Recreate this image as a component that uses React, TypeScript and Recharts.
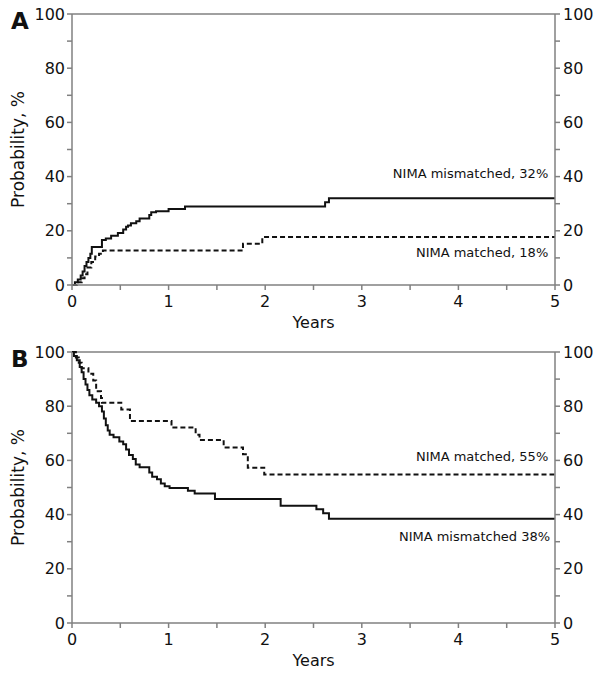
import React from 'react';
import { LineChart, Line, XAxis, YAxis, ReferenceLine, ReferenceDot } from 'recharts';

// Panel A: cumulative incidence (years, %)
const aMismatchedT = [0, 0.03, 0.06, 0.09, 0.11, 0.13, 0.15, 0.17, 0.19, 0.205, 0.31, 0.35, 0.405, 0.475, 0.53, 0.56, 0.58, 0.61, 0.665, 0.7, 0.8, 0.82, 0.87, 0.91, 1.0, 1.17, 2.62, 2.66, 5];
const aMismatchedV = [0, 1, 2, 3.5, 5, 7, 8.5, 10, 11.5, 14, 16.6, 17.2, 18.2, 19.2, 20.5, 21.5, 22, 22.8, 23.5, 24.5, 25.8, 26.8, 27.2, 27.2, 28, 29, 30.5, 32, 32];
const aMatchedT = [0, 0.05, 0.1, 0.13, 0.16, 0.2, 0.24, 0.28, 0.32, 1.77, 1.97, 5];
const aMatchedV = [0, 1, 2.5, 4, 6.5, 8.5, 10.5, 11.5, 12.7, 15.2, 17.7, 17.7];

// Panel B: survival probability (years, %)
const bMismatchedT = [0, 0.02, 0.05, 0.08, 0.1, 0.12, 0.14, 0.16, 0.18, 0.21, 0.25, 0.28, 0.31, 0.33, 0.35, 0.37, 0.39, 0.43, 0.49, 0.53, 0.56, 0.59, 0.63, 0.66, 0.7, 0.8, 0.83, 0.88, 0.92, 0.96, 1.01, 1.2, 1.27, 1.48, 2.16, 2.53, 2.6, 2.66, 5];
const bMismatchedV = [100, 98.5, 97, 94.5, 92.5, 90, 88, 86, 84, 82.5, 81.3, 80, 78, 75.5, 73, 71, 69.5, 68.5, 67, 66, 64, 62, 60.5, 58.5, 57.5, 55.5, 54, 53, 51.5, 50.5, 49.8, 48.8, 47.8, 45.8, 43.3, 42, 40.5, 38.5, 38.5];
const bMatchedT = [0, 0.04, 0.07, 0.1, 0.17, 0.22, 0.25, 0.3, 0.31, 0.51, 0.6, 1.03, 1.28, 1.32, 1.57, 1.77, 1.82, 1.99, 5];
const bMatchedV = [100, 98, 96, 94, 92, 89.5, 85.5, 83, 81.3, 78.8, 74.5, 72.1, 69.5, 67.5, 64.8, 62.3, 57.3, 54.8, 54.8];

const yTicks = [0, 10, 20, 30, 40, 50, 60, 70, 80, 90, 100];
const xTicks = [0, 0.5, 1, 1.5, 2, 2.5, 3, 3.5, 4, 4.5, 5];

const zip = (t: number[], v: number[]) => t.map((x, i) => ({ t: x, v: v[i] }));

const FONT = 'DejaVu Sans, Verdana, sans-serif';
const AXIS = '#808080';
const INK = '#111';

const Ann = (props: any) => {
  const { viewBox, value } = props;
  if (!viewBox) return null;
  const cx = viewBox.x + (viewBox.width || 0) / 2;
  const cy = viewBox.y + (viewBox.height || 0) / 2;
  return (
    <text x={cx} y={cy} textAnchor="end" dominantBaseline="central" fontSize={13} fontFamily={FONT} fill={INK}>
      {value}
    </text>
  );
};

const YLab = (props: any) => {
  const { viewBox } = props;
  if (!viewBox) return null;
  const x = 18;
  const y = viewBox.y + viewBox.height / 2;
  return (
    <text x={x} y={y} transform={`rotate(-90 ${x} ${y})`} textAnchor="middle" dominantBaseline="central" fontSize={17} fontFamily={FONT} fill={INK}>
      Probability, %
    </text>
  );
};

type PanelProps = {
  letter: string;
  solid: { t: number; v: number }[];
  dashed: { t: number; v: number }[];
  anns: { x: number; y: number; text: string }[];
};

const Panel = ({ letter, solid, dashed, anns }: PanelProps) => {
  const tickStyle = { fontSize: 16, fontFamily: FONT, fill: INK };
  return (
    <div style={{ position: 'relative', width: 601, height: 338 }}>
      <LineChart width={601} height={338} margin={{ top: 14, right: 0, bottom: 0, left: 0 }}>
        <XAxis
          type="number"
          dataKey="t"
          domain={[0, 5]}
          ticks={xTicks}
          allowDataOverflow
          tickFormatter={(v: number) => (Number.isInteger(v) ? String(v) : '')}
          axisLine={{ stroke: AXIS, strokeWidth: 1.5 }}
          tickLine={{ stroke: AXIS, strokeWidth: 1.5 }}
          tickSize={5}
          tickMargin={6}
          height={53}
          tick={tickStyle}
          label={{ value: 'Years', position: 'insideBottom', offset: 10, style: { fontSize: 16, fontFamily: FONT, fill: INK } }}
        />
        <YAxis
          yAxisId="l"
          orientation="left"
          type="number"
          domain={[0, 100]}
          ticks={yTicks}
          width={72}
          tickFormatter={(v: number) => (v % 20 === 0 ? String(v) : '')}
          axisLine={{ stroke: AXIS, strokeWidth: 1.5 }}
          tickLine={{ stroke: AXIS, strokeWidth: 1.5 }}
          tickSize={5}
          tickMargin={2}
          tick={tickStyle}
          label={<YLab />}
        />
        <YAxis
          yAxisId="r"
          orientation="right"
          type="number"
          domain={[0, 100]}
          ticks={yTicks}
          width={46}
          tickFormatter={(v: number) => (v % 20 === 0 ? String(v) : '')}
          axisLine={{ stroke: AXIS, strokeWidth: 1.5 }}
          tickLine={{ stroke: AXIS, strokeWidth: 1.5 }}
          tickSize={5}
          tickMargin={3}
          tick={tickStyle}
        />
        <ReferenceLine yAxisId="l" y={100} stroke={AXIS} strokeWidth={1.5} />
        <Line
          yAxisId="r"
          data={solid}
          dataKey="v"
          type="stepAfter"
          stroke="none"
          strokeWidth={0}
          dot={false}
          activeDot={false}
          legendType="none"
          isAnimationActive={false}
        />
        <Line
          yAxisId="l"
          data={dashed}
          dataKey="v"
          type="stepAfter"
          stroke={INK}
          strokeWidth={2}
          strokeDasharray="5 3"
          dot={false}
          isAnimationActive={false}
        />
        <Line
          yAxisId="l"
          data={solid}
          dataKey="v"
          type="stepAfter"
          stroke={INK}
          strokeWidth={2}
          dot={false}
          isAnimationActive={false}
        />
        {anns.map((a) => (
          <ReferenceDot
            key={a.text}
            yAxisId="l"
            x={a.x}
            y={a.y}
            r={1}
            fill="none"
            stroke="none"
            label={<Ann value={a.text} />}
          />
        ))}
      </LineChart>
      <svg width={60} height={40} style={{ position: 'absolute', left: 0, top: 0, pointerEvents: 'none' }}>
        <text x={11} y={28.5} fontSize={23} fontWeight="bold" fontFamily={FONT} fill={INK}>
          {letter}
        </text>
      </svg>
    </div>
  );
};

export default function App() {
  return (
    <div style={{ position: 'absolute', left: 0, top: 0, width: 601, height: 675, background: '#fff' }}>
      <Panel
        letter="A"
        solid={zip(aMismatchedT, aMismatchedV)}
        dashed={zip(aMatchedT, aMatchedV)}
        anns={[
          { x: 4.93, y: 41.2, text: 'NIMA mismatched, 32%' },
          { x: 4.93, y: 12.1, text: 'NIMA matched, 18%' },
        ]}
      />
      <Panel
        letter="B"
        solid={zip(bMismatchedT, bMismatchedV)}
        dashed={zip(bMatchedT, bMatchedV)}
        anns={[
          { x: 4.93, y: 61.6, text: 'NIMA matched, 55%' },
          { x: 4.95, y: 32.0, text: 'NIMA mismatched 38%' },
        ]}
      />
    </div>
  );
}
